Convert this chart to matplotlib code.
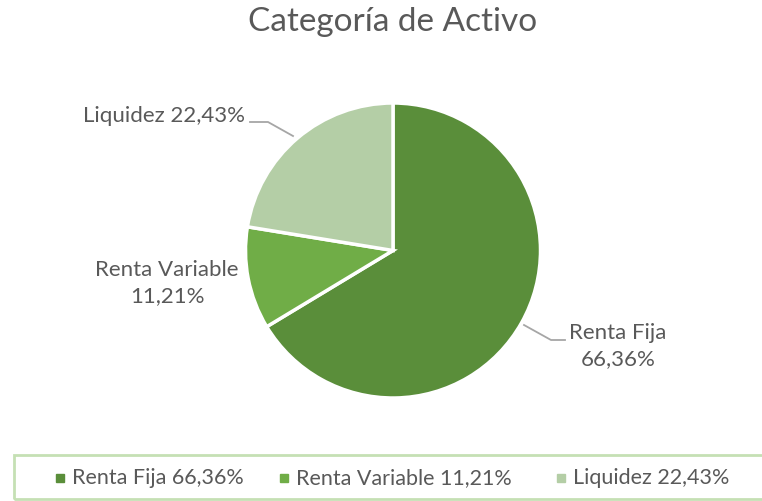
import matplotlib.pyplot as plt
from matplotlib.patches import Rectangle
from matplotlib.lines import Line2D

categories = ["Renta Fija", "Renta Variable", "Liquidez"]
values = [66.36, 11.21, 22.43]
colors = ["#5A8E3A", "#70AD47", "#B4CEA6"]
title = "Categoría de Activo"

plt.rcParams['font.family'] = ['Lato', 'DejaVu Sans']
text_color = "#595959"

W, H = 762, 501
fig = plt.figure(figsize=(W / 100, H / 100), dpi=100)

# pie placed in pixels: center (393, 250.5), radius 147.5
cx, cy, r = 393, 250.5, 147.5
ax = fig.add_axes([(cx - r) / W, (H - cy - r) / H, 2 * r / W, 2 * r / H])
ax.pie(values, colors=colors, startangle=90, counterclock=False,
       wedgeprops=dict(edgecolor="white", linewidth=2.5), radius=1)
ax.set_xlim(-1, 1)
ax.set_ylim(-1, 1)
ax.set_aspect("equal")
ax.axis("off")

def d(px, py):
    return ((px - cx) / r, (cy - py) / r)

def fmt(v):
    return ("%.2f%%" % v).replace(".", ",")

# data labels
x, y = d(245, 116)
ax.text(x, y, "%s %s" % (categories[2], fmt(values[2])), ha="right", va="center",
        fontsize=16, color=text_color, clip_on=False)
pts = [d(250, 122), d(268, 122), d(293, 136)]
ax.add_line(Line2D([p[0] for p in pts], [p[1] for p in pts], color="#A6A6A6", lw=1.3, clip_on=False))

x, y = d(167, 283)
ax.text(x, y, "%s\n%s" % (categories[1], fmt(values[1])), ha="center", va="center",
        fontsize=16, color=text_color, linespacing=1.4, clip_on=False)

x, y = d(618, 346)
ax.text(x, y, "%s\n%s" % (categories[0], fmt(values[0])), ha="center", va="center",
        fontsize=16, color=text_color, linespacing=1.4, clip_on=False)
pts = [d(524, 325), d(551, 340), d(565, 340)]
ax.add_line(Line2D([p[0] for p in pts], [p[1] for p in pts], color="#A6A6A6", lw=1.3, clip_on=False))

fig.text(393 / W, 1 - 22 / H, title, ha="center", va="center", fontsize=24, color=text_color)

# legend box (right edge runs off the image)
fig.patches.append(Rectangle((13.5 / W, (H - 499) / H), (W + 10) / W, 44 / H, transform=fig.transFigure,
                             fill=False, edgecolor="#C5E0B4", lw=2))
legend_x = [60, 284, 561]
for lx, c, v, col in zip(legend_x, categories, values, colors):
    fig.patches.append(Rectangle(((lx - 4) / W, (H - 482) / H), 8 / W, 8 / H,
                                 transform=fig.transFigure, color=col))
    fig.text((lx + 12) / W, 1 - 478 / H, "%s %s" % (c, fmt(v)), ha="left", va="center",
             fontsize=15.5, color=text_color)

fig.savefig("out.png", dpi=100)
